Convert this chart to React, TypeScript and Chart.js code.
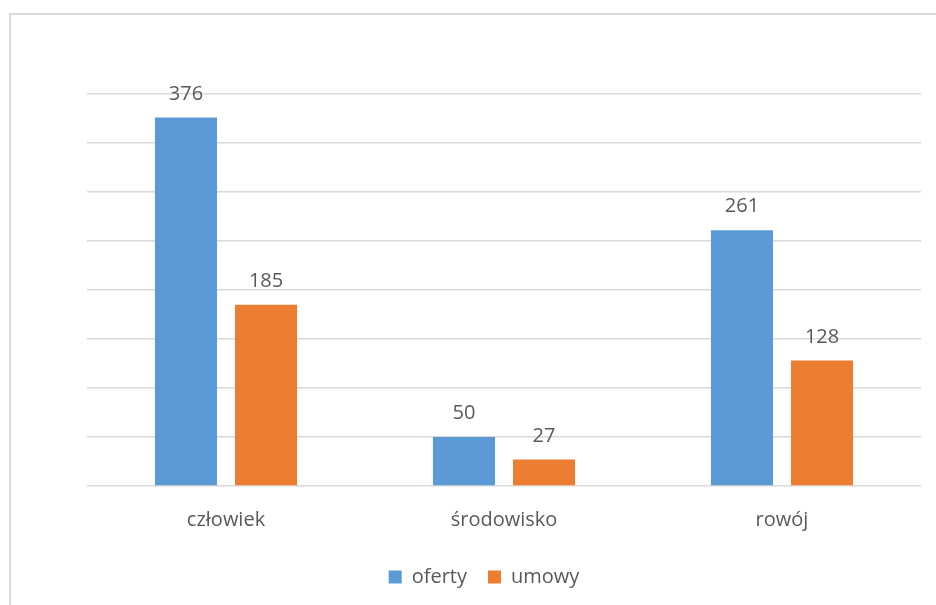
import React, { useEffect, useRef } from "react";
import { Chart, registerables } from "chart.js";

Chart.register(...registerables);

const categories = ["człowiek", "środowisko", "rowój"];
const seriesNames = ["oferty", "umowy"];
const oferty = [376, 50, 261];
const umowy = [185, 27, 128];
const colors = ["#5B9BD5", "#ED7D31"];

const FONT = "'Open Sans', sans-serif";
const TEXT = "#595959";

const valueLabels = {
  id: "valueLabels",
  afterDatasetsDraw(chart: any) {
    const ctx = chart.ctx;
    ctx.save();
    ctx.font = `20px ${FONT}`;
    ctx.fillStyle = TEXT;
    ctx.textAlign = "center";
    ctx.textBaseline = "alphabetic";
    chart.data.datasets.forEach((ds: any, i: number) => {
      const meta = chart.getDatasetMeta(i);
      meta.data.forEach((el: any, j: number) => {
        ctx.fillText(String(ds.data[j]), el.x, el.y - 18);
      });
    });
    ctx.restore();
  },
};

export default function App() {
  const ref = useRef<HTMLCanvasElement>(null);
  useEffect(() => {
    if (!ref.current) return;
    const chart = new Chart(ref.current, {
      type: "bar",
      data: {
        labels: categories,
        datasets: [
          { label: seriesNames[0], data: oferty, backgroundColor: colors[0] },
          { label: seriesNames[1], data: umowy, backgroundColor: colors[1] },
        ],
      },
      options: {
        animation: false,
        responsive: true,
        maintainAspectRatio: false,
        layout: { padding: { left: 47, right: 15, top: 94, bottom: 8 } },
        datasets: {
          bar: { categoryPercentage: 0.576, barPercentage: 0.775 },
        } as any,
        scales: {
          x: {
            grid: { display: false },
            border: { display: false },
            ticks: { font: { family: FONT, size: 20 }, color: TEXT, padding: 14 },
          },
          y: {
            min: 0,
            max: 400,
            ticks: { display: false, stepSize: 50 },
            grid: { color: "#d9d9d9", lineWidth: 1.5, drawTicks: false },
            border: { display: false },
            afterFit(scale: any) {
              scale.width = 40;
            },
          },
        },
        plugins: {
          legend: {
            position: "bottom",
            labels: {
              font: { family: FONT, size: 20 },
              color: TEXT,
              boxWidth: 13,
              boxHeight: 13,
              padding: 21,
            },
          },
          tooltip: { enabled: false },
        },
      },
      plugins: [valueLabels],
    });
    return () => chart.destroy();
  }, []);
  return (
    <div style={{ position: "fixed", left: 0, top: 0, width: 936, height: 605, background: "#fff" }}>
      <div
        style={{
          position: "absolute",
          left: 9,
          top: 13,
          width: 1000,
          height: 1000,
          borderLeft: "2px solid #d9d9d9",
          borderTop: "2px solid #d9d9d9",
        }}
      />
      <div style={{ position: "absolute", left: 0, top: 0, width: 936, height: 605 }}>
        <canvas ref={ref} />
      </div>
    </div>
  );
}
